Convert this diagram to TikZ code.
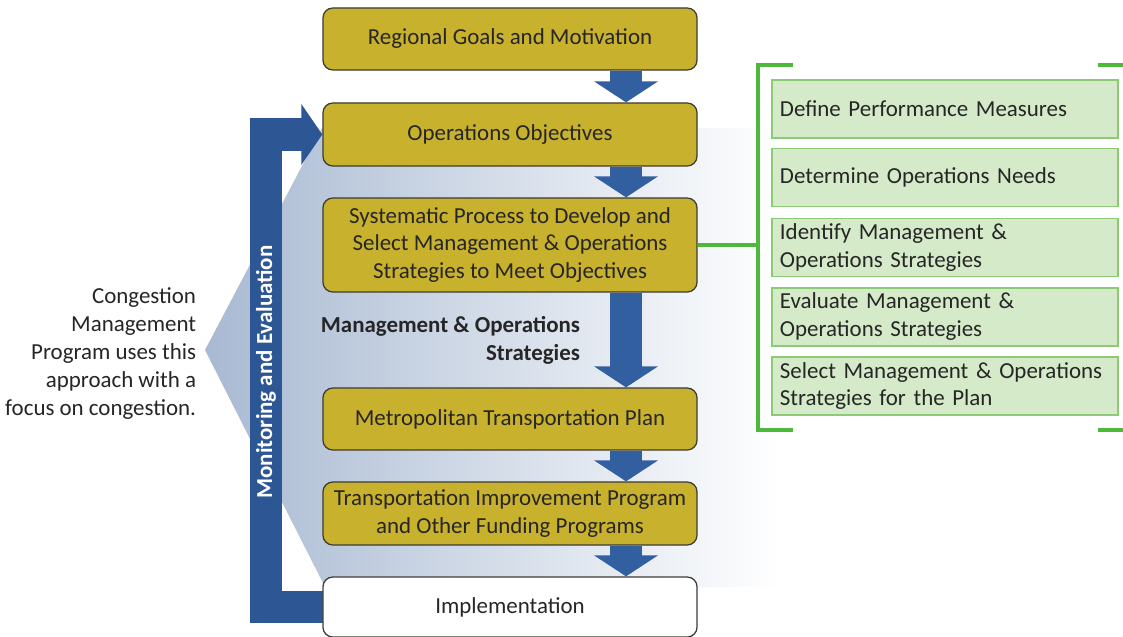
\documentclass[tikz,border=0pt]{standalone}
\usepackage{fontspec}
\setmainfont{Carlito}
\usetikzlibrary{arrows.meta,positioning}

\definecolor{goldbox}{RGB}{200,177,45}
\definecolor{boxline}{RGB}{60,60,55}
\definecolor{ink}{RGB}{38,38,38}
\definecolor{arrowblue}{RGB}{50,95,160}
\definecolor{barblue}{RGB}{44,87,148}
\definecolor{shadeblue}{RGB}{168,185,210}
\definecolor{greenline}{RGB}{78,184,58}
\definecolor{greenfill}{RGB}{212,234,200}
\definecolor{greenedge}{RGB}{140,202,118}

\begin{document}
\begin{tikzpicture}[
  x=0.025cm, y=-0.025cm,
  font=\fontsize{16.3}{19.9}\selectfont,
  box/.style={draw=boxline, line width=0.9pt, fill=goldbox, rounded corners=7pt, align=center, minimum width=9.35cm, minimum height=1.55cm, text=ink},
  impbox/.style={box, fill=white},
  stepbox/.style={draw=greenedge, line width=0.8pt, fill=greenfill, minimum width=8.65cm, minimum height=1.45cm, text width=8.25cm, inner xsep=0.2cm, align=left, text=ink},
  block/.style={draw=arrowblue, line width=0.8cm, -{Triangle[width=1.575cm,length=0.525cm]}},
  feedback/.style={draw=barblue, line width=0.8cm, -{Triangle[width=1.5cm,length=0.525cm]}},
  bracket/.style={draw=greenline, line width=1.1mm},
  note/.style={align=right, text=ink}
]
\useasboundingbox[fill=white] (0,0) rectangle (1123,637);

\shade[left color=shadeblue, right color=white] (322,128) -- (205,350) -- (325,587) -- (780,587) -- (780,128) -- cycle;

\node[note, anchor=east] (cmp) at (201,354) {Congestion\\Management\\Program uses this\\approach with a\\focus on congestion.};

\node[box] (goals) at (510,39) {Regional Goals and Motivation};
\node[box, minimum height=1.575cm] (ops) at (510,134.5) {Operations Objectives};
\node[box, minimum height=2.35cm] (sys) at (510,245) {Systematic Process to Develop and\\Select Management \& Operations\\Strategies to Meet Objectives};
\node[box] (metro) at (510,419) {Metropolitan Transportation Plan};
\node[box, minimum height=1.575cm] (tip) at (510,513.5) {Transportation Improvement Program\\and Other Funding Programs};

\coordinate (mon) at (266,372);
\draw[feedback] (510,607) -| (mon) |- (ops.west);
\node[font=\fontsize{16.3}{19.9}\selectfont\bfseries, text=white, rotate=90] (montxt) at (mon) {Monitoring and Evaluation};

\node[impbox, minimum height=1.5cm] (impl) at (510,607) {Implementation};

\node[note, anchor=east, font=\fontsize{16.3}{19.9}\selectfont\bfseries] (mos) at (585,340) {Management \& Operations\\Strategies};

\draw[block] ([xshift=2.9cm]goals.south) -- ([xshift=2.9cm]ops.north);
\draw[block] ([xshift=2.9cm]ops.south) -- ([xshift=2.9cm]sys.north);
\draw[block] ([xshift=2.9cm]sys.south) -- ([xshift=2.9cm]metro.north);
\draw[block] ([xshift=2.9cm]metro.south) -- ([xshift=2.9cm]tip.north);
\draw[block] ([xshift=2.9cm]tip.south) -- ([xshift=2.9cm]impl.north);

\coordinate (brk) at (758,245);
\draw[bracket] (sys.east) -- (brk);
\draw[bracket] (793,65) -- (758,65) -- (758,430) -- (793,430);
\draw[bracket] (1098,65) -- (1123,65);
\draw[bracket] (1098,430) -- (1123,430);

\node[stepbox] (pm) at (945,109) {Define Performance Measures};
\node[stepbox] (needs) at (945,177.5) {Determine Operations Needs};
\node[stepbox] (ident) at (945,247.5) {Identify Management \&\\Operations Strategies};
\node[stepbox] (evalms) at (945,317) {Evaluate Management \&\\Operations Strategies};
\node[stepbox] (select) at (945,386) {Select Management \& Operations\\Strategies for the Plan};

\end{tikzpicture}
\end{document}
